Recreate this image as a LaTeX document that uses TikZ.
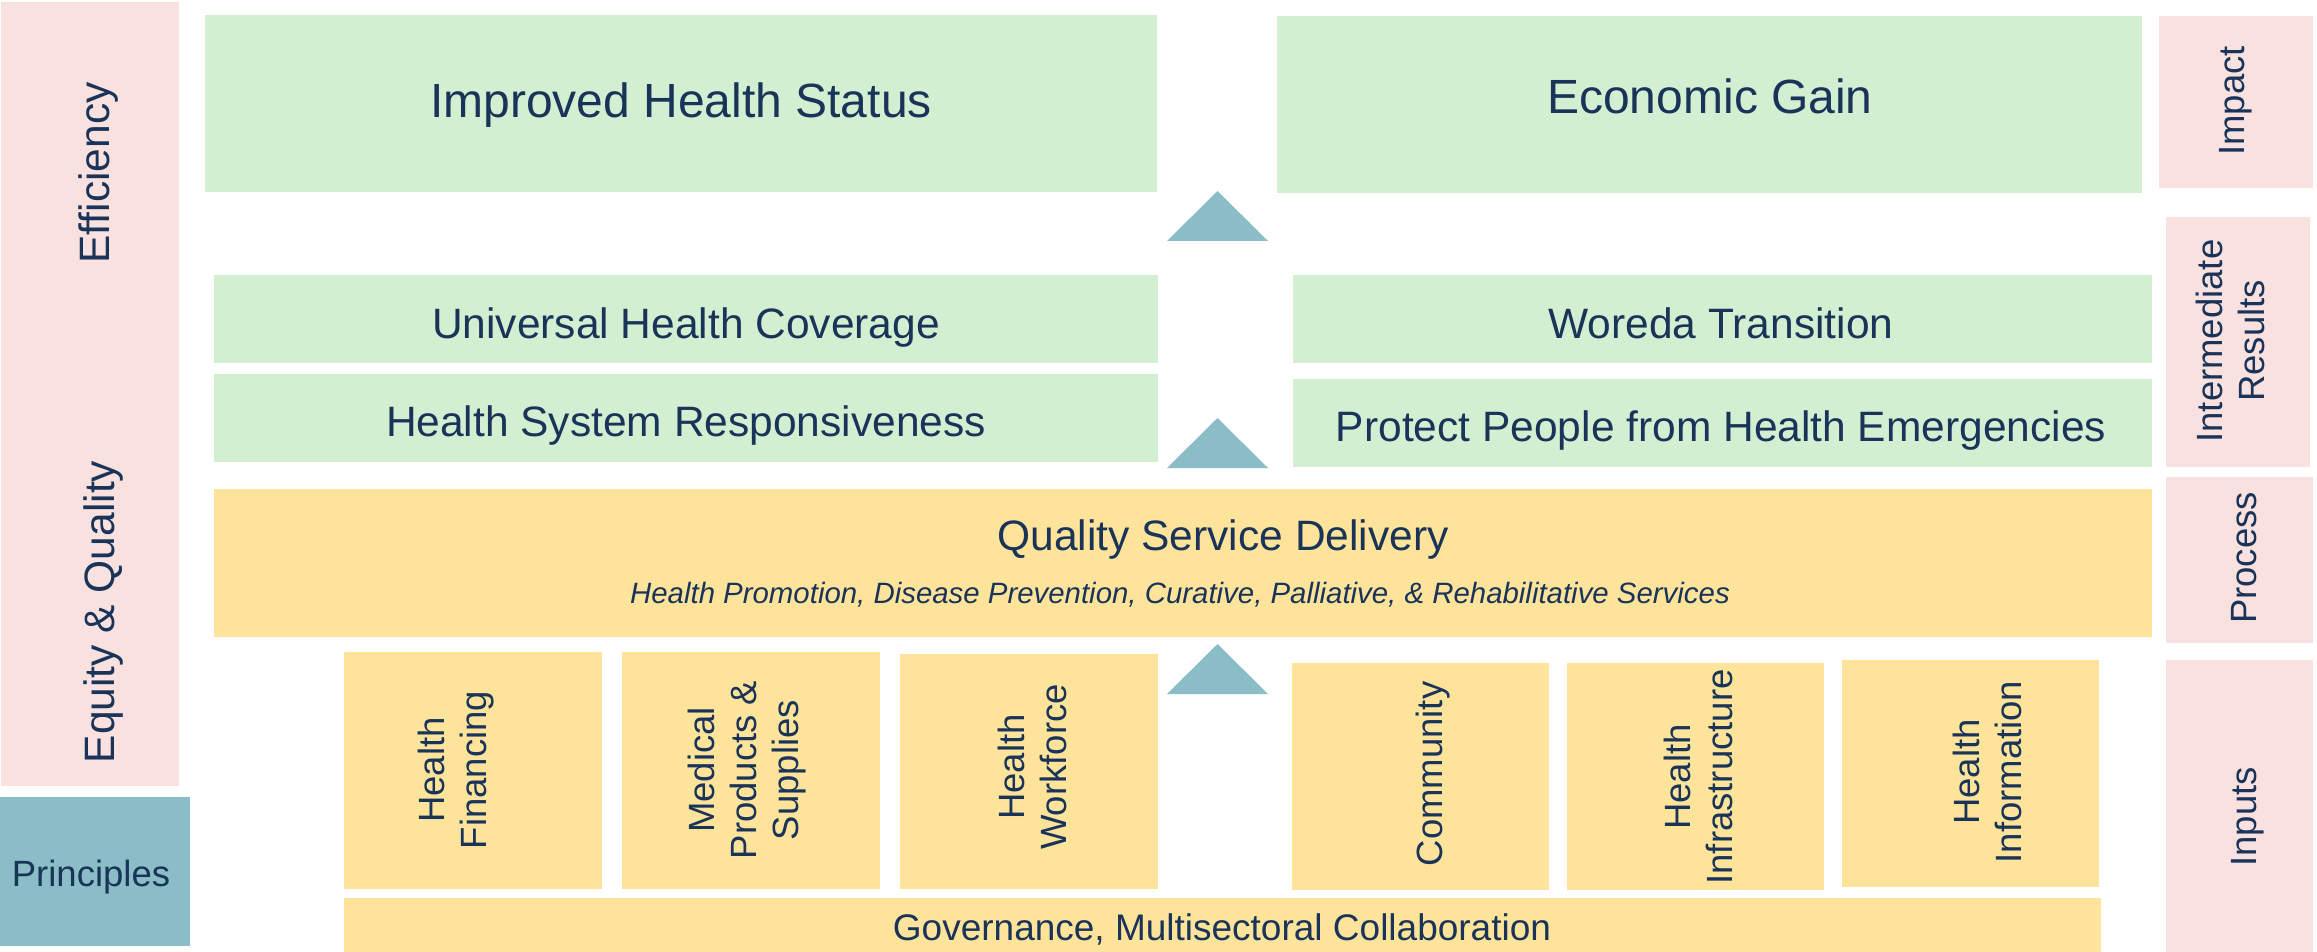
\documentclass[tikz,border=0pt]{standalone}
\usepackage{fontspec}
\setmainfont{Liberation Sans}
\definecolor{gbox}{HTML}{D2EFD2}
\definecolor{ybox}{HTML}{FEE49A}
\definecolor{pbox}{HTML}{F9E1E0}
\definecolor{tealc}{HTML}{8ABDC6}
\definecolor{navy}{HTML}{1A3358}
\begin{document}
\begin{tikzpicture}[x=0.5pt,y=-0.5pt,
  txt/.style={text=navy, inner sep=0pt, anchor=base},
  big/.style={txt, font=\fontsize{24pt}{28pt}\selectfont},
  mid/.style={txt, font=\fontsize{21.25pt}{25pt}\selectfont},
  sml/.style={txt, font=\fontsize{18.25pt}{21pt}\selectfont},
  gov/.style={txt, font=\fontsize{18.5pt}{21pt}\selectfont},
  ital/.style={txt, font=\fontsize{14.7pt}{17pt}\selectfont\itshape},
  vert/.style={rotate=90},
  vml/.style={sml, align=center, rotate=90, anchor=center},
  greenbox/.style={fill=gbox},
  yellowbox/.style={fill=ybox},
  pinkbox/.style={fill=pbox},
  tealbox/.style={fill=tealc},
  uparrow/.style={fill=tealc}
]
\useasboundingbox (0,0) rectangle (2317,952);
\fill[white] (0,0) rectangle (2317,952);

% left principles column
\fill[pinkbox] (1,2) rectangle (179,786);
\fill[tealbox] (0,797) rectangle (190,946);
% impact row
\fill[greenbox] (205,15) rectangle (1157,192);
\fill[greenbox] (1277,16) rectangle (2142,193);
\fill[pinkbox] (2159,16) rectangle (2313,188);
% intermediate results
\fill[greenbox] (214,275) rectangle (1158,363);
\fill[greenbox] (214,374) rectangle (1158,462);
\fill[greenbox] (1293,275) rectangle (2152,363);
\fill[greenbox] (1293,379) rectangle (2152,467);
\fill[pinkbox] (2166,217) rectangle (2310,467);
% process
\fill[yellowbox] (214,489) rectangle (2152,637);
\fill[pinkbox] (2166,477) rectangle (2313,643);
% inputs
\fill[yellowbox] (344,652) rectangle (602,889);
\fill[yellowbox] (622,652) rectangle (880,889);
\fill[yellowbox] (900,654) rectangle (1158,889);
\fill[yellowbox] (1292,663) rectangle (1549,890);
\fill[yellowbox] (1567,663) rectangle (1824,890);
\fill[yellowbox] (1842,660) rectangle (2099,887);
\fill[yellowbox] (344,898) rectangle (2101,952);
\fill[pinkbox] (2166,660) rectangle (2313,952);

% arrows (triangles)
\fill[uparrow] (1167,241) -- (1217.5,191) -- (1268,241) -- cycle;
\fill[uparrow] (1167,468) -- (1217.5,418) -- (1268,468) -- cycle;
\fill[uparrow] (1167,694) -- (1217.5,644) -- (1268,694) -- cycle;

% texts
\node[mid, vert] (eff) at (109,173) {Efficiency};
\node[mid, vert] (equ) at (114,612) {Equity \& Quality};
\node[sml] (pri) at (91,886) {Principles};

\node[big] (ihs) at (681,118) {Improved Health Status};
\node[big] (eg) at (1710,114) {Economic Gain};
\node[sml, vert] (imp) at (2244,101) {Impact};

\node[mid] (uhc) at (686,338) {Universal Health Coverage};
\node[mid] (hsr) at (686,436) {Health System Responsiveness};
\node[mid] (wt) at (1721,338) {Woreda Transition};
\node[mid] (pp) at (1721,441) {Protect People from Health Emergencies};
\node[vml] (ir) at (2230,341) {Intermediate\\Results};

\node[mid] (qsd) at (1223,550) {Quality Service Delivery};
\node[ital] (qsds) at (1180,603) {Health Promotion, Disease Prevention, Curative, Palliative, \& Rehabilitative Services};
\node[sml, vert] (proc) at (2256,558) {Process};

\node[vml] (hf) at (456,770) {Health\\Financing};
\node[vml] (mps) at (747,770) {Medical\\Products \&\\Supplies};
\node[vml] (hw) at (1032,767) {Health\\Workforce};
\node[sml, vert] (com) at (1442,774) {Community};
\node[vml] (hi) at (1698,777) {Health\\Infrastructure};
\node[vml] (hinf) at (1987,772) {Health\\Information};
\node[gov] (gmc) at (1222,940) {Governance, Multisectoral Collaboration};
\node[sml, vert] (inp) at (2256,817) {Inputs};
\end{tikzpicture}
\end{document}
